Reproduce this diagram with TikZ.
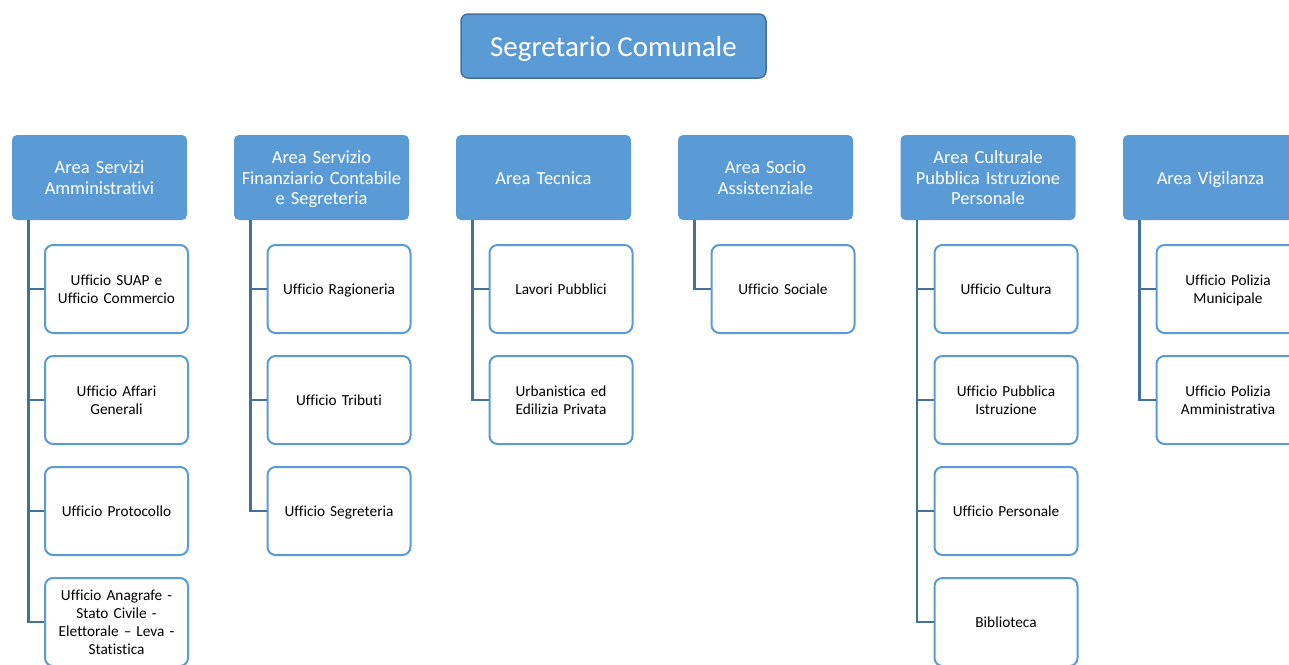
\documentclass[tikz,border=0pt]{standalone}
\usepackage{fontspec}
\setmainfont[Ligatures={NoCommon}]{Carlito}
\definecolor{fillblue}{HTML}{5B9BD5}
\definecolor{darkblue}{HTML}{41719C}
\begin{document}
\begin{tikzpicture}[x=1pt,y=-1pt,
  vpad/.style 2 args={execute at begin node={\rule{0pt}{#1}}, execute at end node={\rule[-#2]{0pt}{0pt}}},
  topbox/.style={vpad={28.65pt}{7.25pt},draw=darkblue,line width=1.5pt,fill=fillblue,rounded corners=7pt,minimum width=305pt,minimum height=64pt,text=white,font=\fontsize{29}{34}\selectfont,inner sep=0pt},
  areabox/.style={vpad={17.6pt}{4.6pt},fill=fillblue,rounded corners=5pt,minimum width=175pt,minimum height=85pt,text=white,font=\fontsize{18.5}{20.5}\selectfont,text width=170pt,align=center,inner sep=0pt},
  unitbox/.style={vpad={13.75pt}{3.75pt},draw=fillblue,line width=2pt,fill=white,rounded corners=8pt,minimum width=143pt,minimum height=88pt,text=black,font=\fontsize{15.3}{18}\selectfont,text width=135pt,align=center,inner sep=0pt},
  link/.style={draw=darkblue,line width=2.6pt}]
\useasboundingbox (0,0) rectangle (1289,664);
\clip (0,0) rectangle (1289,664);

\node[topbox] (top) at (613.5,46) {Segretario Comunale};

\node[areabox] (a1) at (99.5,177.5) {Area Servizi\\Amministrativi};
\node[areabox] (a2) at (321.5,177.5) {Area Servizio\\Finanziario Contabile\\e Segreteria};
\node[areabox] (a3) at (543.5,177.5) {Area Tecnica};
\node[areabox] (a4) at (765.5,177.5) {Area Socio\\Assistenziale};
\node[areabox] (a5) at (988,177.5) {Area Culturale\\Pubblica Istruzione\\Personale};
\node[areabox] (a6) at (1210.5,177.5) {Area Vigilanza};

\node[unitbox] (c11) at (116.5,289) {Ufficio SUAP e\\Ufficio Commercio};
\node[unitbox] (c12) at (116.5,400) {Ufficio Affari\\Generali};
\node[unitbox] (c13) at (116.5,511) {Ufficio Protocollo};
\node[unitbox] (c14) at (116.5,622) {Ufficio Anagrafe -\\Stato Civile -\\Elettorale – Leva -\\Statistica};

\node[unitbox] (c21) at (339,289) {Ufficio Ragioneria};
\node[unitbox] (c22) at (339,400) {Ufficio Tributi};
\node[unitbox] (c23) at (339,511) {Ufficio Segreteria};

\node[unitbox] (c31) at (561,289) {Lavori Pubblici};
\node[unitbox] (c32) at (561,400) {Urbanistica ed\\Edilizia Privata};

\node[unitbox] (c41) at (783,289) {Ufficio Sociale};

\node[unitbox] (c51) at (1006,289) {Ufficio Cultura};
\node[unitbox] (c52) at (1006,400) {Ufficio Pubblica\\Istruzione};
\node[unitbox] (c53) at (1006,511) {Ufficio Personale};
\node[unitbox] (c54) at (1006,622) {Biblioteca};

\node[unitbox] (c61) at (1228,289) {Ufficio Polizia\\Municipale};
\node[unitbox] (c62) at (1228,400) {Ufficio Polizia\\Amministrativa};

\foreach \a/\c in {a1/c11,a1/c12,a1/c13,a1/c14,a2/c21,a2/c22,a2/c23,a3/c31,a3/c32,a4/c41,a5/c51,a5/c52,a5/c53,a5/c54,a6/c61,a6/c62}{
  \draw[link] ([xshift=16.5pt]\a.south west) |- (\c.west);
}
\end{tikzpicture}
\end{document}
